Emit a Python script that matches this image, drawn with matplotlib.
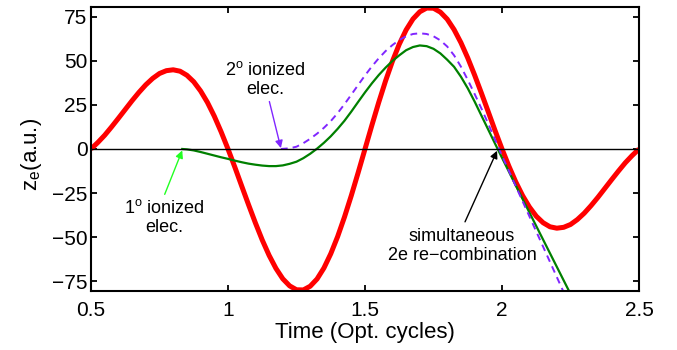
import numpy as np
import matplotlib
matplotlib.use("Agg")
import matplotlib.pyplot as plt

plt.rcParams["font.family"] = ["Liberation Sans", "DejaVu Sans"]
plt.rcParams["mathtext.fontset"] = "custom"
plt.rcParams["mathtext.rm"] = "Liberation Sans"
plt.rcParams["mathtext.it"] = "Liberation Sans:italic"

# laser field (red), sampled every 0.025 optical cycles from 0.5 to 2.5
field_t = np.arange(81) * 0.025 + 0.5
field = [
    0.0, 3.7, 7.8, 12.5, 17.4, 22.4, 27.4, 32.1, 36.4, 40.0,
    42.8, 44.4, 44.9, 44.1, 41.8, 38.1, 32.9, 26.4, 18.6, 9.7,
    0.0, -10.3, -21.0, -31.6, -41.9, -51.6, -60.3, -67.7, -73.6, -77.6,
    -79.8, -79.9, -77.8, -73.7, -67.5, -59.4, -49.7, -38.6, -26.4, -13.4,
    0.0, 13.4, 26.4, 38.6, 49.7, 59.4, 67.5, 73.7, 77.8, 79.9,
    79.8, 77.6, 73.6, 67.7, 60.3, 51.6, 41.9, 31.6, 21.0, 10.3,
    0.0, -9.7, -18.6, -26.4, -32.9, -38.1, -41.8, -44.1, -44.9, -44.4,
    -42.8, -40.0, -36.4, -32.1, -27.4, -22.4, -17.4, -12.5, -7.8, -3.7,
    0.0,
]

# first ionized electron (green)
elec1_t = np.concatenate([[0.833], np.arange(57) * 0.025 + 0.85])
elec1 = [
    0.0, -0.2, -0.8, -1.7, -2.7, -3.7, -4.7, -5.6, -6.6, -7.5,
    -8.3, -8.9, -9.4, -9.7, -9.7, -9.3, -8.4, -7.2, -5.2, -2.7,
    0.2, 3.5, 7.2, 11.4, 16.0, 21.2, 26.7, 32.1, 37.2, 41.9,
    46.1, 49.9, 53.1, 56.0, 57.8, 58.7, 58.3, 56.8, 54.2, 50.6,
    46.6, 41.0, 34.4, 26.9, 18.9, 10.9, 2.9, -5.0, -12.8, -20.6,
    -28.3, -36.0, -43.7, -51.4, -59.1, -66.8, -74.5, -82.2,
]

# second ionized electron (purple, dashed)
elec2_t = np.concatenate([[1.193], np.arange(42) * 0.025 + 1.2])
elec2 = [
    0.0, 0.1, 0.4, 1.3, 3.3, 5.8, 8.7, 12.0, 15.8, 20.3,
    25.4, 30.8, 36.3, 41.7, 46.8, 51.4, 55.5, 58.9, 61.8, 63.9,
    65.2, 65.6, 65.2, 63.9, 61.6, 58.1, 53.1, 46.7, 39.2, 31.2,
    22.9, 14.2, 5.2, -3.8, -12.4, -21.0, -29.6, -38.2, -46.8, -55.4,
    -64.0, -72.6, -81.2,
]

xticks = [0.5, 1, 1.5, 2, 2.5]
xtick_labels = ["0.5", "1", "1.5", "2", "2.5"]
yticks = [-75, -50, -25, 0, 25, 50, 75]

purple = "#8026ff"

fig = plt.figure(figsize=(6.77, 3.5), dpi=100)
ax = fig.add_axes([0.1344, 0.1686, 0.8095, 0.8114])

ax.plot(field_t, field, color="red", lw=3.6, solid_capstyle="butt")
ax.plot(elec1_t, elec1, color="#008000", lw=1.6)
ax.plot(elec2_t, elec2, color=purple, lw=1.4, dashes=(3.5, 2.6))
ax.axhline(0, color="black", lw=1.0)

ax.set_xlim(0.5, 2.5)
ax.set_ylim(-80.5, 80.5)
ax.set_xticks(xticks)
ax.set_xticklabels(xtick_labels)
ax.set_yticks(yticks)
ax.tick_params(axis="both", direction="in", top=True, right=True,
               length=4, width=1.3, labelsize=15)
ax.tick_params(axis="x", pad=7)
ax.tick_params(axis="y", pad=2.5)
for sp in ax.spines.values():
    sp.set_linewidth(1.5)

ax.set_xlabel("Time (Opt. cycles)", fontsize=16, labelpad=2)
ax.set_ylabel(r"z$_{\mathrm{e}}$(a.u.)", fontsize=16)
ax.yaxis.set_label_coords(-0.085, 0.48)

# annotations
arrow = dict(arrowstyle="-|>", lw=1.0, mutation_scale=11, shrinkA=0, shrinkB=0)
ax.annotate("", xy=(0.833, -0.8), xytext=(0.769, -25.7),
            arrowprops=dict(arrow, color="#22ff22"))
ax.text(0.766, -38.6, "1$^{\\mathrm{o}}$ ionized\nelec.", ha="center",
        va="center", fontsize=13, linespacing=1.15)

ax.annotate("", xy=(1.193, 0.5), xytext=(1.151, 26.9),
            arrowprops=dict(arrow, color=purple))
ax.text(1.135, 39.5, "2$^{\\mathrm{o}}$ ionized\nelec.", ha="center",
        va="center", fontsize=13, linespacing=1.15)

ax.annotate("", xy=(1.982, -1.0), xytext=(1.865, -41.3),
            arrowprops=dict(arrow, color="black"))
ax.text(1.854, -54.8, "simultaneous\n2e re\u2212combination", ha="center",
        va="center", fontsize=13, linespacing=1.15)

fig.savefig("out.png", dpi=100)
